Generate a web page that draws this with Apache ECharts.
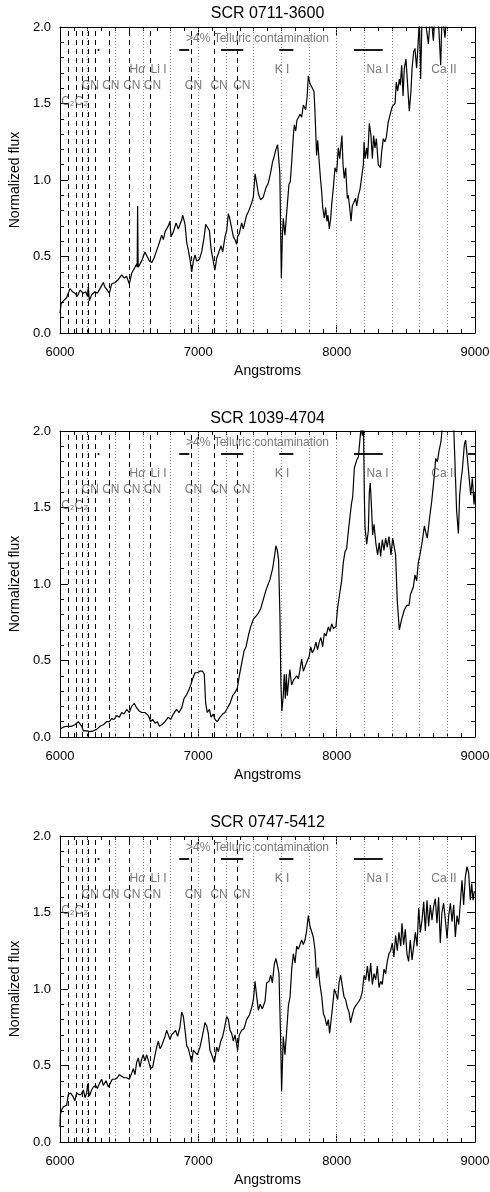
<!DOCTYPE html>
<html>
<head>
<meta charset="utf-8">
<script src="https://cdn.jsdelivr.net/npm/echarts/dist/echarts.min.js"></script>
<style>
  html, body { margin: 0; padding: 0; background: #fff; }
  #chart { width: 490px; height: 1192px; }
</style>
</head>
<body>
<div id="chart"></div>
<script>
// Panel titles (one spectrum per panel)
const titles = ['SCR 0711-3600', 'SCR 1039-4704', 'SCR 0747-5412'];

// Axis ranges and tick steps
const xRange = [6000, 9000];
const xStep = 1000;
const yRange = [0, 2];
const yStep = 0.5;

// Spectra: [wavelength (Angstrom), normalized flux]
const spec0711 = [
  [6000,0.13],[6008,0.19],[6024,0.21],[6048,0.23],[6072,0.29],[6090,0.27],[6108,0.26],[6125,0.24],[6145,0.28],
  [6169,0.26],[6186,0.27],[6198,0.24],[6205,0.30],[6212,0.21],[6229,0.25],[6253,0.27],[6270,0.26],[6289,0.29],
  [6313,0.33],[6325,0.30],[6342,0.28],[6357,0.26],[6373,0.32],[6398,0.33],[6422,0.35],[6446,0.38],[6463,0.36],
  [6482,0.37],[6501,0.32],[6518,0.39],[6542,0.43],[6554,0.45],[6558,0.43],[6561,0.83],[6565,0.43],[6569,0.44],
  [6590,0.47],[6602,0.50],[6614,0.53],[6627,0.52],[6646,0.47],[6663,0.46],[6680,0.49],[6699,0.54],[6718,0.59],
  [6735,0.64],[6747,0.61],[6759,0.66],[6783,0.70],[6795,0.73],[6802,0.63],[6819,0.66],[6839,0.72],[6855,0.68],
  [6880,0.74],[6887,0.77],[6904,0.71],[6916,0.59],[6928,0.54],[6940,0.48],[6952,0.40],[6964,0.47],[6976,0.51],
  [6988,0.47],[7007,0.48],[7024,0.53],[7041,0.62],[7053,0.71],[7065,0.72],[7080,0.67],[7092,0.55],[7108,0.47],
  [7120,0.41],[7133,0.49],[7145,0.52],[7164,0.57],[7176,0.53],[7193,0.63],[7205,0.67],[7217,0.78],[7229,0.74],
  [7241,0.73],[7253,0.63],[7265,0.61],[7277,0.58],[7284,0.63],[7296,0.65],[7313,0.72],[7325,0.68],[7349,0.77],
  [7361,0.79],[7386,0.85],[7398,0.89],[7410,1.04],[7422,0.98],[7434,0.91],[7451,0.87],[7470,0.89],[7489,0.95],
  [7506,0.98],[7523,1.05],[7537,1.12],[7547,1.15],[7561,1.20],[7573,1.23],[7582,1.22],[7589,1.05],[7600,0.36],
  [7607,0.62],[7614,0.75],[7626,0.64],[7639,0.79],[7655,0.97],[7665,0.99],[7675,1.12],[7687,1.29],[7694,1.36],
  [7704,1.32],[7713,1.39],[7723,1.38],[7735,1.43],[7747,1.41],[7759,1.49],[7776,1.46],[7786,1.54],[7795,1.68],
  [7807,1.63],[7819,1.62],[7836,1.58],[7843,1.45],[7855,1.16],[7863,1.26],[7872,1.14],[7882,1.02],[7892,0.92],
  [7899,0.82],[7911,0.75],[7920,0.82],[7930,0.73],[7937,0.77],[7947,0.68],[7957,0.75],[7964,0.84],[7976,0.95],
  [7988,1.08],[8000,1.05],[8012,1.21],[8022,1.14],[8038,1.29],[8046,1.10],[8055,1.01],[8065,1.08],[8077,0.88],
  [8084,0.90],[8094,0.82],[8104,0.73],[8113,0.83],[8125,0.84],[8137,0.88],[8145,0.83],[8157,0.90],[8169,0.94],
  [8181,0.95],[8193,1.10],[8198,1.25],[8205,1.14],[8217,1.21],[8224,1.14],[8236,1.37],[8248,1.29],[8258,1.14],
  [8267,1.29],[8277,1.21],[8287,1.27],[8301,1.10],[8316,1.08],[8325,1.18],[8337,1.27],[8349,1.25],[8359,1.28],
  [8373,1.38],[8393,1.45],[8402,1.48],[8422,1.50],[8431,1.64],[8441,1.58],[8453,1.66],[8460,1.62],[8470,1.75],
  [8480,1.55],[8489,1.73],[8501,1.79],[8513,1.62],[8525,1.45],[8537,1.58],[8545,1.73],[8557,1.84],[8566,1.86],
  [8578,1.73],[8588,1.88],[8598,2.05],[8607,1.66],[8618,2.10],[8640,2.05],[8663,1.89],[8680,2.10],[8699,1.91],
  [8712,2.10],[8735,2.05],[8752,1.75],[8762,2.10],[8783,1.93],[8800,2.15],[8815,2.30]
];

const spec1039 = [
  [6000,0.05],[6024,0.065],[6048,0.07],[6084,0.07],[6108,0.08],[6133,0.10],[6145,0.11],[6157,0.07],[6169,0.04],
  [6193,0.04],[6217,0.035],[6241,0.04],[6265,0.05],[6289,0.07],[6313,0.08],[6337,0.10],[6357,0.10],[6373,0.12],
  [6390,0.115],[6410,0.14],[6429,0.13],[6446,0.16],[6463,0.15],[6482,0.18],[6501,0.16],[6518,0.20],[6537,0.22],
  [6554,0.19],[6573,0.17],[6590,0.16],[6614,0.16],[6639,0.14],[6655,0.10],[6670,0.115],[6687,0.09],[6704,0.10],
  [6718,0.07],[6735,0.08],[6759,0.10],[6783,0.13],[6800,0.115],[6819,0.15],[6843,0.18],[6860,0.16],[6880,0.19],
  [6896,0.25],[6911,0.27],[6928,0.30],[6945,0.34],[6959,0.38],[6976,0.42],[6993,0.42],[7012,0.43],[7031,0.43],
  [7043,0.41],[7053,0.22],[7065,0.16],[7080,0.18],[7092,0.13],[7108,0.15],[7120,0.115],[7137,0.10],[7157,0.13],
  [7176,0.15],[7193,0.16],[7210,0.19],[7229,0.22],[7248,0.27],[7265,0.29],[7282,0.32],[7296,0.40],[7313,0.48],
  [7330,0.56],[7345,0.59],[7361,0.66],[7378,0.72],[7398,0.77],[7417,0.79],[7434,0.81],[7451,0.84],[7470,0.90],
  [7489,0.96],[7501,0.965],[7518,1.03],[7537,1.10],[7552,1.19],[7561,1.25],[7571,1.22],[7580,1.16],[7590,0.79],
  [7597,0.35],[7604,0.17],[7614,0.27],[7621,0.41],[7629,0.25],[7636,0.41],[7643,0.27],[7653,0.37],[7662,0.44],
  [7674,0.34],[7687,0.37],[7699,0.38],[7711,0.40],[7723,0.38],[7735,0.44],[7747,0.51],[7759,0.43],[7771,0.46],
  [7783,0.45],[7802,0.53],[7812,0.59],[7824,0.55],[7836,0.57],[7850,0.62],[7862,0.57],[7874,0.62],[7886,0.65],
  [7899,0.59],[7911,0.68],[7923,0.66],[7940,0.72],[7952,0.69],[7964,0.74],[7976,0.71],[7995,0.72],[8005,0.83],
  [8019,0.92],[8036,1.02],[8048,1.14],[8060,1.21],[8072,1.23],[8084,1.34],[8096,1.44],[8108,1.53],[8116,1.57],
  [8128,1.76],[8145,1.81],[8157,1.83],[8169,1.95],[8177,2.03],[8186,1.97],[8194,2.04],[8200,1.58],[8205,1.37],
  [8217,1.26],[8229,1.35],[8236,1.60],[8243,1.66],[8253,1.48],[8260,1.32],[8270,1.39],[8284,1.26],[8296,1.19],
  [8308,1.27],[8318,1.18],[8330,1.29],[8342,1.22],[8354,1.30],[8366,1.24],[8378,1.31],[8393,1.19],[8405,1.30],
  [8417,1.29],[8426,1.19],[8438,0.89],[8453,0.70],[8470,0.77],[8489,0.83],[8506,0.86],[8523,0.86],[8533,0.93],
  [8554,0.98],[8566,1.06],[8578,1.02],[8590,1.14],[8602,1.19],[8619,1.28],[8634,1.38],[8646,1.33],[8655,1.30],
  [8670,1.42],[8687,1.54],[8704,1.69],[8716,1.82],[8728,1.80],[8740,1.87],[8754,1.93],[8766,2.05],[8800,2.30],
  [8843,2.10],[8855,1.80],[8867,1.48],[8880,1.33],[8889,1.58],[8899,1.68],[8908,1.74],[8923,1.91],[8932,1.94],
  [8945,1.82],[8957,1.70],[8969,1.58],[8981,1.69],[8993,1.52],[9000,1.60]
];

const spec0747 = [
  [6000,0.10],[6003,0.18],[6012,0.21],[6024,0.23],[6036,0.24],[6048,0.24],[6060,0.31],[6077,0.32],[6092,0.30],
  [6108,0.27],[6120,0.32],[6137,0.31],[6152,0.31],[6169,0.34],[6181,0.29],[6193,0.32],[6200,0.38],[6212,0.30],
  [6229,0.34],[6241,0.36],[6258,0.37],[6270,0.35],[6284,0.38],[6301,0.41],[6313,0.37],[6333,0.40],[6349,0.36],
  [6361,0.38],[6378,0.41],[6398,0.41],[6414,0.42],[6429,0.44],[6446,0.43],[6463,0.42],[6482,0.42],[6501,0.41],
  [6518,0.45],[6530,0.48],[6542,0.44],[6554,0.52],[6566,0.55],[6578,0.49],[6590,0.54],[6602,0.57],[6614,0.53],
  [6627,0.57],[6639,0.56],[6655,0.48],[6670,0.49],[6687,0.57],[6699,0.62],[6711,0.66],[6723,0.61],[6735,0.63],
  [6747,0.62],[6759,0.69],[6771,0.73],[6783,0.73],[6795,0.67],[6807,0.70],[6819,0.69],[6836,0.73],[6850,0.69],
  [6867,0.75],[6880,0.85],[6892,0.82],[6904,0.73],[6916,0.63],[6928,0.61],[6940,0.62],[6952,0.52],[6964,0.60],
  [6976,0.59],[6993,0.57],[7012,0.62],[7031,0.70],[7048,0.78],[7060,0.76],[7072,0.71],[7084,0.60],[7101,0.56],
  [7116,0.52],[7133,0.62],[7145,0.59],[7162,0.66],[7176,0.69],[7188,0.74],[7205,0.82],[7217,0.80],[7229,0.73],
  [7241,0.71],[7253,0.66],[7265,0.70],[7277,0.69],[7284,0.60],[7296,0.70],[7313,0.73],[7330,0.74],[7349,0.80],
  [7369,0.83],[7386,0.88],[7398,0.93],[7410,1.05],[7422,0.95],[7434,0.86],[7446,0.90],[7463,0.87],[7482,0.92],
  [7494,1.04],[7511,1.05],[7523,1.09],[7535,1.04],[7549,1.16],[7561,1.20],[7573,1.15],[7583,1.10],[7595,0.67],
  [7602,0.33],[7614,0.69],[7626,0.57],[7639,0.73],[7651,0.89],[7663,0.95],[7675,1.13],[7687,1.23],[7699,1.17],
  [7711,1.28],[7723,1.26],[7735,1.29],[7747,1.32],[7759,1.29],[7771,1.32],[7783,1.38],[7795,1.48],[7807,1.41],
  [7819,1.40],[7831,1.34],[7843,1.26],[7855,1.07],[7867,1.14],[7879,1.03],[7892,0.95],[7904,0.84],[7916,0.81],
  [7928,0.76],[7940,0.80],[7949,0.71],[7959,0.79],[7971,0.89],[7983,1.00],[7995,0.97],[8007,0.93],[8017,1.04],
  [8029,1.09],[8041,1.02],[8053,0.95],[8065,0.93],[8077,0.88],[8089,0.85],[8101,0.78],[8113,0.83],[8125,0.87],
  [8137,0.89],[8149,0.90],[8161,0.92],[8173,0.94],[8185,0.98],[8198,1.09],[8210,1.06],[8222,1.15],[8234,1.05],
  [8246,1.17],[8258,1.03],[8270,1.10],[8282,1.06],[8294,1.15],[8306,1.01],[8318,1.05],[8330,1.03],[8342,1.13],
  [8354,1.10],[8366,1.18],[8378,1.23],[8390,1.25],[8402,1.30],[8414,1.21],[8426,1.35],[8438,1.25],[8450,1.37],
  [8463,1.28],[8472,1.43],[8484,1.29],[8496,1.39],[8508,1.23],[8520,1.18],[8532,1.32],[8545,1.19],[8557,1.28],
  [8569,1.37],[8581,1.28],[8593,1.53],[8605,1.37],[8617,1.45],[8629,1.57],[8641,1.38],[8653,1.58],[8665,1.41],
  [8677,1.55],[8689,1.45],[8701,1.54],[8713,1.59],[8725,1.43],[8737,1.60],[8749,1.30],[8761,1.50],[8773,1.56],
  [8786,1.45],[8798,1.33],[8810,1.48],[8822,1.56],[8834,1.44],[8846,1.55],[8858,1.34],[8870,1.48],[8882,1.42],
  [8894,1.56],[8906,1.71],[8918,1.55],[8930,1.73],[8942,1.80],[8954,1.76],[8966,1.58],[8976,1.69],[8986,1.58],
  [8995,1.64]
];
const spectra = [spec0711, spec1039, spec0747];

// Molecular band / atomic line markers (dashed) and 200 A reference lines (dotted)
const bandLines = [6060, 6121, 6164, 6205, 6258, 6354, 6501, 6656, 6952, 7115, 7282];
const refLines = [6200, 6400, 6600, 6800, 7000, 7200, 7400, 7600, 7800, 8000, 8200, 8400, 8600, 8800];

// Telluric absorption regions, drawn as bars at a fixed flux level
const telluricLevel = 1.85;
const telluricBands = [[6272, 6285], [6862, 6934], [7164, 7325], [7585, 7687], [8125, 8333]];
const telluricExtra = [[], [[8950, 9000]], []];

// Feature labels: [left wavelength, flux level, text]
const featureLabels = [
  [6005, 1.51, 'C₂'], [6102, 1.51, 'C₂'],
  [6152, 1.615, 'CN'], [6301, 1.615, 'CN'], [6453, 1.615, 'CN'], [6602, 1.615, 'CN'],
  [6899, 1.615, 'CN'], [7084, 1.615, 'CN'], [7248, 1.615, 'CN'],
  [6499, 1.72, 'Hα'], [6651, 1.72, 'Li I'],
  [7549, 1.72, 'K I'], [8212, 1.72, 'Na I'], [8680, 1.72, 'Ca II'],
  [6907, 1.925, '>4% Telluric contamination']
];

// Layout of the three stacked panels
const panelTop = [27, 431, 836];
const panelHeight = 306;
const titleTop = [6, 411, 815];
const FONT = 'Liberation Sans, Arial, Helvetica, sans-serif';

const chart = echarts.init(document.getElementById('chart'), null, { renderer: 'canvas' });

const grids = [], xAxes = [], yAxes = [], series = [], titleList = [];

// Shared frame styling: black box with inward major/minor ticks on all four sides
const frameLine = { show: true, onZero: false, lineStyle: { color: '#000', width: 1 } };
const majorTick = { show: true, inside: true, length: 8, lineStyle: { color: '#000', width: 1 } };

function xAxisDef(i, pos) {
  const bottom = pos === 'bottom';
  return {
    type: 'value', gridIndex: i, position: pos, min: xRange[0], max: xRange[1], interval: xStep,
    name: bottom ? 'Angstroms' : '', nameLocation: 'middle', nameGap: 31,
    nameTextStyle: { fontFamily: FONT, fontSize: 14, color: '#000' },
    axisLine: frameLine, axisTick: majorTick,
    minorTick: { show: true, splitNumber: 10, length: 4, lineStyle: { color: '#000', width: 1 } },
    axisLabel: { show: bottom, margin: 13, fontFamily: FONT, fontSize: 13, color: '#000',
      formatter: v => String(v), showMinLabel: true, showMaxLabel: true },
    splitLine: { show: false }, minorSplitLine: { show: false }
  };
}
function yAxisDef(i, pos) {
  const left = pos === 'left';
  return {
    type: 'value', gridIndex: i, position: pos, min: yRange[0], max: yRange[1], interval: yStep,
    name: left ? 'Normalized flux' : '', nameLocation: 'middle', nameGap: 34, nameRotate: 90,
    nameTextStyle: { fontFamily: FONT, fontSize: 14, color: '#000' },
    axisLine: frameLine, axisTick: majorTick,
    minorTick: { show: true, splitNumber: 5, length: 4, lineStyle: { color: '#000', width: 1 } },
    axisLabel: { show: left, margin: 9, fontFamily: FONT, fontSize: 13, color: '#000',
      formatter: v => v.toFixed(1), showMinLabel: true, showMaxLabel: true },
    splitLine: { show: false }, minorSplitLine: { show: false }
  };
}

for (let i = 0; i < 3; i++) {
  grids.push({ left: 60, width: 415, top: panelTop[i], height: panelHeight,
    containLabel: false, outerBoundsMode: 'none', show: false });
  titleList.push({ text: titles[i], left: 267.5, top: titleTop[i], textAlign: 'center', padding: 0,
    textStyle: { fontFamily: FONT, fontSize: 16, fontWeight: 'normal', color: '#000' } });

  const markData = [];
  refLines.forEach(x => markData.push({ xAxis: x,
    lineStyle: { type: [1, 2], color: '#8a8a8a', width: 1 } }));
  bandLines.forEach(x => markData.push({ xAxis: x,
    lineStyle: { type: [5, 4], color: '#000', width: 1 } }));
  telluricBands.concat(telluricExtra[i]).forEach(b => markData.push([
    { coord: [b[0], telluricLevel], lineStyle: { type: 'solid', color: '#000', width: 1.8 } },
    { coord: [b[1], telluricLevel] }
  ]));

  series.push({
    type: 'line', xAxisIndex: i, yAxisIndex: i, data: spectra[i], showSymbol: false, symbol: 'none',
    clip: true, lineStyle: { color: '#000', width: 1.2 }, z: 3, silent: true,
    markLine: { silent: true, symbol: ['none', 'none'], label: { show: false }, animation: false,
      data: markData, z: 2 }
  });

  series.push({
    type: 'scatter', xAxisIndex: i, yAxisIndex: i, symbol: 'circle', symbolSize: 1, silent: true, z: 4,
    itemStyle: { color: 'rgba(0,0,0,0)' },
    data: featureLabels.map(d => ({ value: [d[0], d[1]], name: d[2] })),
    label: {
      show: true, position: 'right', distance: 0, fontFamily: FONT, fontSize: 12, color: '#555',
      formatter: p => p.name.replace('α', '{a|α}'),
      rich: { a: { fontFamily: FONT, fontSize: 12, fontStyle: 'italic', color: '#555' } }
    },
    labelLayout: { hideOverlap: false }
  });

  xAxes.push(xAxisDef(i, 'bottom'));
  yAxes.push(yAxisDef(i, 'left'));
}
for (let i = 0; i < 3; i++) {
  xAxes.push(xAxisDef(i, 'top'));
  yAxes.push(yAxisDef(i, 'right'));
}

chart.setOption({
  animation: false,
  backgroundColor: '#fff',
  title: titleList,
  grid: grids,
  xAxis: xAxes,
  yAxis: yAxes,
  series: series
});
</script>
</body>
</html>
